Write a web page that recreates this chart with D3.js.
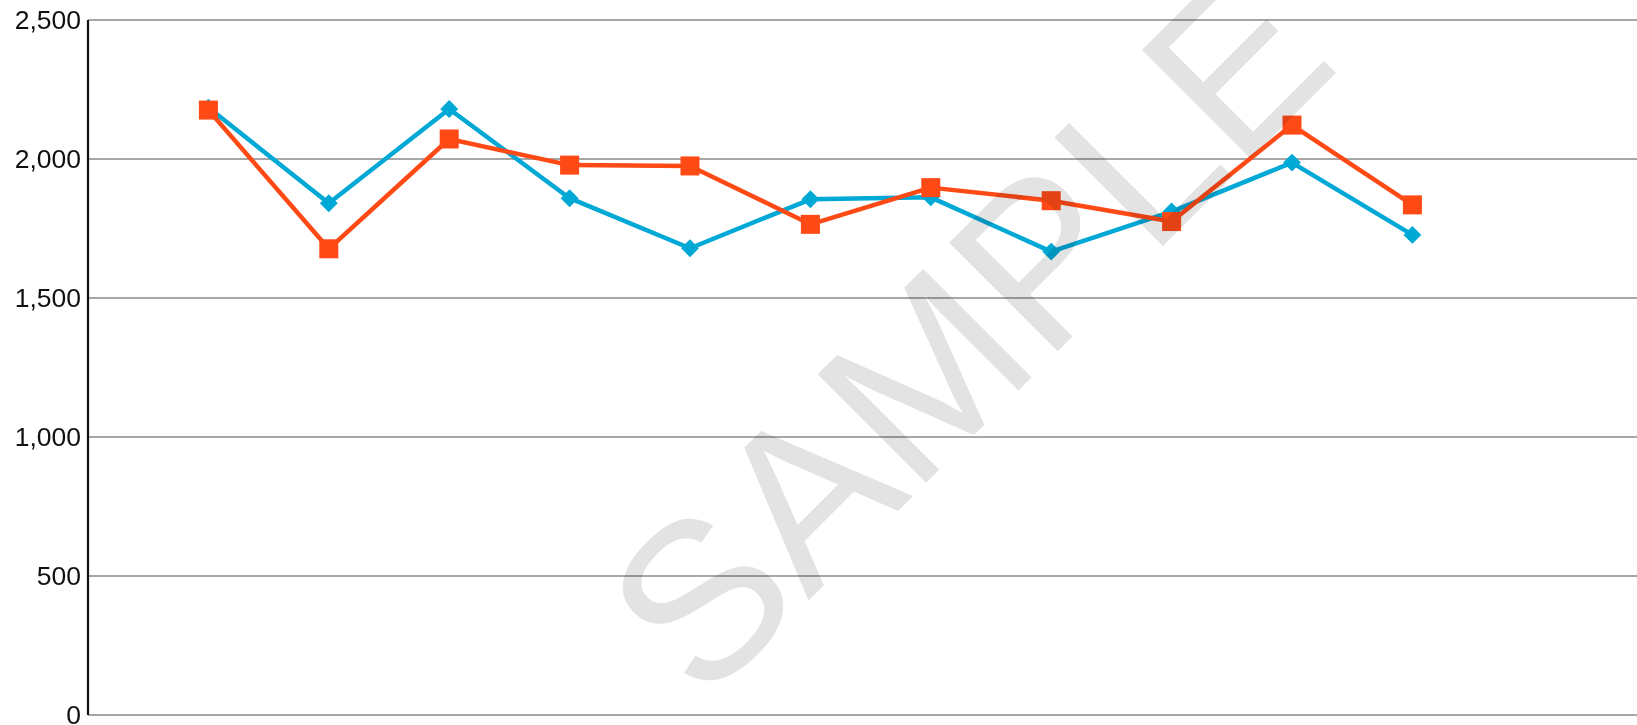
<!DOCTYPE html>
<html>
<head>
<meta charset="utf-8">
<script src="https://cdn.jsdelivr.net/npm/d3@7"></script>
<style>
  html, body { margin: 0; padding: 0; background: #fff; overflow: hidden; }
  svg { display: block; font-family: "Liberation Sans", Arial, sans-serif; }
</style>
</head>
<body>
<svg></svg>
<script>
// data
const points = [1, 2, 3, 4, 5, 6, 7, 8, 9, 10, 11];
const seriesBlue = [2185, 1841, 2180, 1859, 1679, 1855, 1862, 1667, 1811, 1987, 1727];
const seriesOrange = [2176, 1677, 2072, 1978, 1975, 1765, 1897, 1850, 1775, 2122, 1835];
const yTicks = [0, 500, 1000, 1500, 2000, 2500];
const watermark = "SAMPLE";

const width = 1637, height = 725;
const margin = { top: 20, right: 0, bottom: 10, left: 88 };
const step = 120.4;

const svg = d3.select("svg").attr("width", width).attr("height", height);

const x = d3.scaleLinear()
    .domain([0, 1])
    .range([margin.left, margin.left + step]);

const y = d3.scaleLinear()
    .domain([0, 2500])
    .range([height - margin.bottom, margin.top]);

// gridlines
svg.append("g")
    .selectAll("line")
    .data(yTicks)
    .join("line")
    .attr("x1", margin.left)
    .attr("x2", width)
    .attr("y1", d => y(d))
    .attr("y2", d => y(d))
    .attr("stroke", "#8a8a8a")
    .attr("stroke-width", 1.3);

// y axis
const yAxis = svg.append("g")
    .attr("transform", `translate(${margin.left},0)`)
    .call(d3.axisLeft(y).tickValues(yTicks).tickSize(0).tickPadding(7).tickFormat(d3.format(",")));
yAxis.select(".domain")
    .attr("stroke", "#111")
    .attr("stroke-width", 2.2)
    .attr("d", `M0,${y(2500)}V${y(0)}`);
yAxis.selectAll("text")
    .attr("font-family", "'Liberation Sans', Arial, sans-serif")
    .attr("font-size", 26.5)
    .attr("fill", "#111");

// lines
const line = d3.line()
    .x((d, i) => x(points[i]))
    .y(d => y(d));

svg.append("path")
    .datum(seriesBlue)
    .attr("d", line)
    .attr("fill", "none")
    .attr("stroke", "#00a8d6")
    .attr("stroke-width", 4.5)
    .attr("stroke-linejoin", "round");

svg.append("g")
    .selectAll("path")
    .data(seriesBlue)
    .join("path")
    .attr("d", d3.symbol(d3.symbolSquare, 160))
    .attr("transform", (d, i) => `translate(${x(points[i])},${y(d)}) rotate(45)`)
    .attr("fill", "#00a8d6");

svg.append("path")
    .datum(seriesOrange)
    .attr("d", line)
    .attr("fill", "none")
    .attr("stroke", "#ff4a16")
    .attr("stroke-width", 4.5)
    .attr("stroke-linejoin", "round");

svg.append("g")
    .selectAll("rect")
    .data(seriesOrange)
    .join("rect")
    .attr("x", (d, i) => x(points[i]) - 9.5)
    .attr("y", d => y(d) - 9.5)
    .attr("width", 19)
    .attr("height", 19)
    .attr("fill", "#ff4a16");

// watermark
svg.append("text")
    .attr("transform", "translate(703,706) rotate(-45)")
    .attr("font-family", "'Liberation Sans', Arial, sans-serif")
    .attr("font-size", 223)
    .attr("fill", "#e3e3e3")
    .style("mix-blend-mode", "multiply")
    .text(watermark);
</script>
</body>
</html>
